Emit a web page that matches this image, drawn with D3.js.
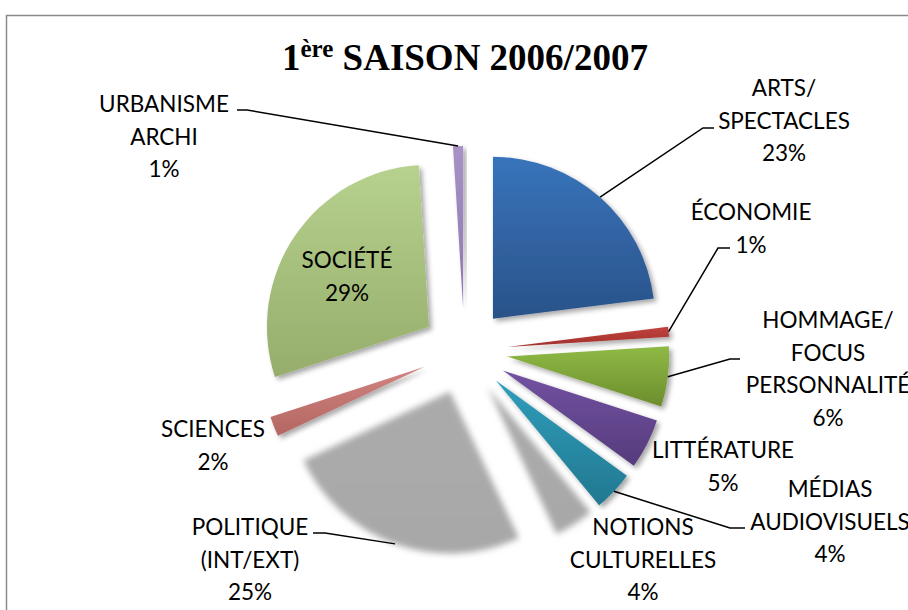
<!DOCTYPE html>
<html>
<head>
<meta charset="utf-8">
<script src="https://cdn.jsdelivr.net/npm/d3@7"></script>
<style>
  body { margin: 0; background: #fff; }
  svg { display: block; }
</style>
</head>
<body>
<script>
// Data (clockwise from 12 o'clock)
const categories = ['ARTS/ SPECTACLES', 'ÉCONOMIE', 'HOMMAGE/ FOCUS PERSONNALITÉ', 'LITTÉRATURE',
	'MÉDIAS AUDIOVISUELS', 'NOTIONS CULTURELLES', 'POLITIQUE (INT/EXT)', 'SCIENCES', 'SOCIÉTÉ', 'URBANISME ARCHI']
const values = [23, 1, 6, 5, 4, 4, 25, 2, 29, 1]
// label lines as Excel wrapped them
const labelLines = [
	['ARTS/', 'SPECTACLES'], ['ÉCONOMIE'], ['HOMMAGE/', 'FOCUS', 'PERSONNALITÉ'], ['LITTÉRATURE'],
	['MÉDIAS', 'AUDIOVISUELS'], ['NOTIONS', 'CULTURELLES'], ['POLITIQUE', '(INT/EXT)'], ['SCIENCES'],
	['SOCIÉTÉ'], ['URBANISME', 'ARCHI'],
]

// Styles
const topColors = ['#3874bb', '#c2423e', '#8fba45', '#7352a2', '#2f9dbc', '#ababab', '#ababab', '#d08380', '#b7d18e', '#a892c6']
const bottomColors = ['#2a5289', '#a0302c', '#6c8d2d', '#553b7c', '#227890', '#a8a8a8', '#a8a8a8', '#b46662', '#96ad6b', '#8b77ae']
const blurred = [false, false, false, false, false, true, true, false, false, false]

// Layout of the data labels (center x, first baseline) and leader line bends
const labelPos = [
	{ x: 784, y: 96 }, { x: 751, y: 220 }, { x: 828, y: 328 }, { x: 723, y: 458 }, { x: 830, y: 497 },
	{ x: 643, y: 535 }, { x: 250, y: 535 }, { x: 213, y: 437 }, { x: 347, y: 268 }, { x: 164, y: 112 },
]
const leaders = [
	[[703, 128], [714, 128]], [[718, 248], [730, 248]], [[730, 359], [740, 359]], null,
	[[730, 528], [745, 528]], null, [[325, 533], [313, 533]], null, null, [[247, 110], [237, 110]],
]

const width = 908
const height = 610
const cx = 464.5
const cy = 351
const radius = 162
const explode = 43
const lineGap = 32.5

const svg = d3.select('body').append('svg').attr('width', width).attr('height', height)
const defs = svg.append('defs')

// chart frame
svg.append('rect')
	.attr('x', 6.5).attr('y', 15.5)
	.attr('width', 1000).attr('height', 1000)
	.attr('fill', 'none').attr('stroke', '#8a8a8a').attr('stroke-width', 1.5)

// Title
const title = svg.append('text')
	.attr('x', 282).attr('y', 70)
	.attr('font-family', '"Liberation Serif", "Times New Roman", serif')
	.attr('font-weight', 'bold').attr('font-size', 37).attr('fill', '#000')
title.append('tspan').text('1')
title.append('tspan').attr('font-size', 25).attr('dy', -13).text('ère')
title.append('tspan').attr('dy', 13).text(' SAISON 2006/2007')

// filters
const shadow = defs.append('filter').attr('id', 'shadow')
	.attr('x', '-20%').attr('y', '-20%').attr('width', '150%').attr('height', '150%')
shadow.append('feDropShadow').attr('dx', 3).attr('dy', 3).attr('stdDeviation', 2.5)
	.attr('flood-color', '#000').attr('flood-opacity', 0.35)
const soft = defs.append('filter').attr('id', 'soft')
	.attr('x', '-20%').attr('y', '-20%').attr('width', '140%').attr('height', '140%')
soft.append('feGaussianBlur').attr('stdDeviation', 3.2)

values.forEach(function (v, i) {
	const g = defs.append('linearGradient').attr('id', 'grad' + i)
		.attr('x1', 0).attr('y1', 0).attr('x2', 0).attr('y2', 1)
	g.append('stop').attr('offset', '0%').attr('stop-color', topColors[i])
	g.append('stop').attr('offset', '100%').attr('stop-color', bottomColors[i])
})

const pie = d3.pie().sort(null).value(d => d).startAngle(0).endAngle(2 * Math.PI)
const arcs = pie(values)
const arc = d3.arc().innerRadius(0).outerRadius(radius)

// vertex of each exploded slice
arcs.forEach(function (d) {
	d.mid = (d.startAngle + d.endAngle) / 2
	d.ox = cx + explode * Math.sin(d.mid)
	d.oy = cy - explode * Math.cos(d.mid)
})

svg.append('g').selectAll('path')
	.data(arcs)
	.enter()
	.append('path')
	.attr('transform', d => 'translate(' + d.ox + ',' + d.oy + ')')
	.attr('d', arc)
	.attr('fill', (d, i) => 'url(#grad' + i + ')')
	.attr('filter', (d, i) => (blurred[i] ? 'url(#soft)' : 'url(#shadow)'))

// leader lines from the outer edge of the slice to the label
svg.append('g').selectAll('polyline')
	.data(arcs.filter((d, i) => leaders[i]))
	.enter()
	.append('polyline')
	.attr('points', function (d) {
		const start = [d.ox + radius * Math.sin(d.mid), d.oy - radius * Math.cos(d.mid)]
		return [start].concat(leaders[d.index]).map(p => p.join(',')).join(' ')
	})
	.attr('fill', 'none').attr('stroke', '#000').attr('stroke-width', 1.5)

// data labels
const labels = svg.append('g')
	.attr('font-family', 'Lato, "Open Sans", sans-serif')
	.attr('font-size', 22.5).attr('fill', '#000').attr('text-anchor', 'middle')
	.selectAll('text')
	.data(arcs)
	.enter()
	.append('text')
	.attr('x', (d, i) => labelPos[i].x)
	.attr('y', (d, i) => labelPos[i].y)

labels.each(function (d, i) {
	const t = d3.select(this)
	const lines = labelLines[i].concat([d3.format('.0%')(values[i] / d3.sum(values))])
	lines.forEach(function (line, j) {
		t.append('tspan').attr('x', labelPos[i].x).attr('dy', j === 0 ? 0 : lineGap).text(line)
	})
})
</script>
</body>
</html>
